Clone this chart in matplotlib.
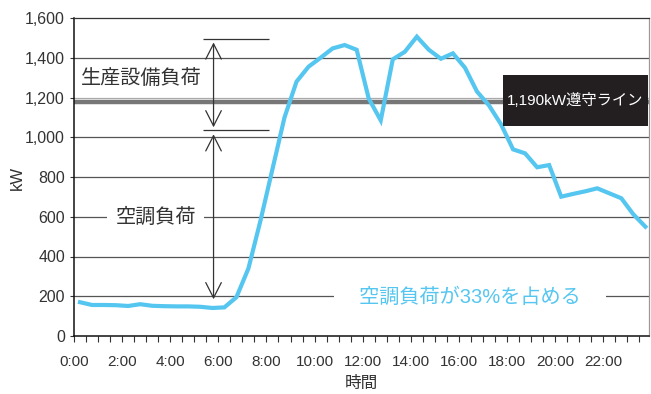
import matplotlib
matplotlib.use("Agg")
import matplotlib.pyplot as plt
from matplotlib.patches import Rectangle
from matplotlib.ticker import FuncFormatter, MultipleLocator
import numpy as np

plt.rcParams['font.family'] = ['Liberation Sans', 'Noto Sans CJK JP', 'DejaVu Sans']

# 30-minute demand readings, 0:00-23:30 (kW)
load_kw = [170, 156, 156, 155, 151, 160, 152, 150, 149, 149, 147, 141,
           144, 195, 340, 580, 840, 1100, 1280, 1355, 1400, 1447, 1464, 1440,
           1195, 1085, 1392, 1430, 1506, 1440, 1395, 1422, 1350, 1230, 1160, 1065,
           939, 919, 849, 860, 701, 715, 728, 743, 718, 693, 612, 550]
hour_labels = ['0:00', '2:00', '4:00', '6:00', '8:00', '10:00',
               '12:00', '14:00', '16:00', '18:00', '20:00', '22:00']
limit_kw = 1175          # drawn position of the 1,190kW line
limit_text = '1,190kW遵守ライン'
peak_kw = 1492
base_kw = 1035
night_kw = 185

blue = '#55C6F0'
times = 0.25 + 0.5 * np.arange(len(load_kw))

fig = plt.figure(figsize=(6.51, 3.94), dpi=100)
ax = fig.add_axes([74 / 651, (394 - 336) / 394, 575 / 651, 318 / 394])

ax.set_xlim(0, 23.9)
ax.set_ylim(0, 1600)

# grid
for v in range(200, 1600, 200):
    ax.axhline(v, color='#aaaaaa' if v == 1200 else '#555555', lw=0.9, zorder=1)

ax.axhline(limit_kw, color='#777777', lw=3.2, zorder=2)

ax.plot(times, load_kw, color=blue, lw=3.0, solid_joinstyle='miter', zorder=4)

# axes styling
ax.yaxis.set_major_locator(MultipleLocator(200))
ax.yaxis.set_major_formatter(FuncFormatter(lambda v, p: f'{int(v):,}'))
ax.set_xticks(np.arange(0, 24, 0.5), minor=True)
ax.set_xticks(np.arange(0, 24, 2))
ax.set_xticklabels(hour_labels)
ax.tick_params(axis='x', which='both', length=4.5, width=0.8, color='#333333', pad=9,
               labelsize=11, labelcolor='#333333')
ax.tick_params(axis='y', length=3, width=0.8, color='#333333', pad=3.5,
               labelsize=11.5, labelcolor='#333333')
for s in ['left', 'bottom']:
    ax.spines[s].set_color('#111111')
    ax.spines[s].set_linewidth(1.1)
ax.spines['top'].set_color('#333333')
ax.spines['top'].set_linewidth(0.9)
ax.spines['right'].set_color('#999999')
ax.spines['right'].set_linewidth(0.9)

ax.set_ylabel('kW', fontsize=12, color='#333333')
ax.yaxis.set_label_coords(-0.085, 0.497)
ax.set_xlabel('時間', fontsize=12, color='#333333', labelpad=5)

# brackets and arrows
ax.hlines([peak_kw, base_kw], 5.35, 8.1, color='#333333', lw=0.9, zorder=3)
arrow = dict(arrowstyle='<->,head_length=0.55,head_width=0.28', color='#333333',
             lw=0.9, shrinkA=0, shrinkB=0, mutation_scale=20)
ax.annotate('', xy=(5.8, peak_kw - 15), xytext=(5.8, base_kw + 15), arrowprops=arrow, zorder=5)
ax.annotate('', xy=(5.8, base_kw - 20), xytext=(5.8, night_kw), arrowprops=arrow, zorder=5)

ax.text(2.8, 1296, '生産設備負荷', fontsize=14.5, color='#333333', ha='center', va='center',
        zorder=5)
ax.text(3.4, 600, '空調負荷', fontsize=14.5, color='#333333', ha='center', va='center',
        zorder=5, bbox=dict(boxstyle='square,pad=0.4', fc='white', ec='none'))
ax.text(16.45, 196, '\u3000空調負荷が33%を占める\u3000', fontsize=14.5, color=blue,
        ha='center', va='center', zorder=5,
        bbox=dict(boxstyle='square,pad=0.25', fc='white', ec='none'))

# black label box for the limit line
ax.add_patch(Rectangle((0.746, 0.660), 0.252, 0.161, transform=ax.transAxes,
                       fc='#231f20', ec='none', zorder=6))
ax.text(0.872, 0.742, limit_text, transform=ax.transAxes, fontsize=11, color='white',
        ha='center', va='center', zorder=7)

fig.savefig('out.png', dpi=100)
